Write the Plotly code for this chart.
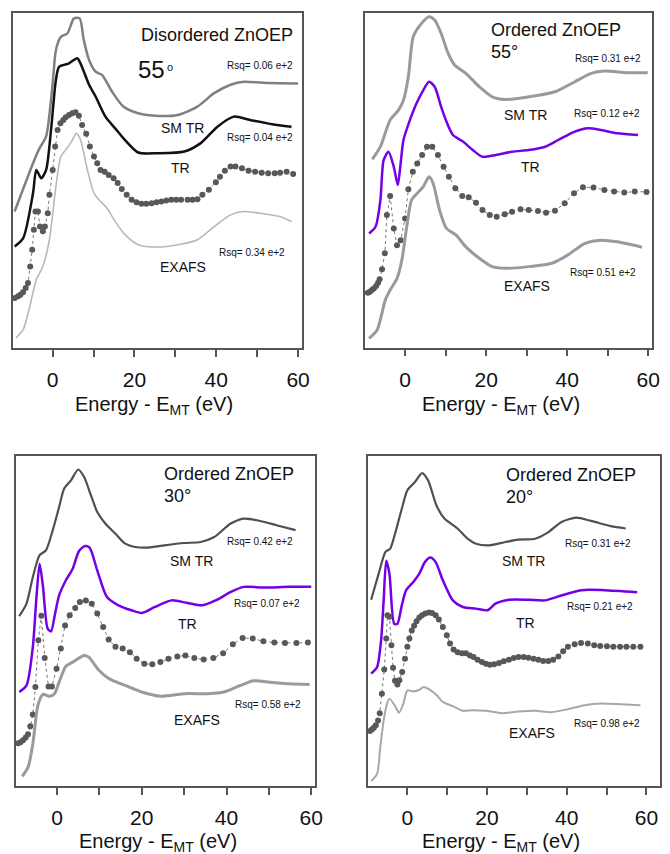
import plotly.graph_objects as go

# ---------------- data (energy in eV, normalised absorption + offset, arbitrary units) ----------------
TICK_VALS = [0, 20, 40, 60]
TICK_TEXT = ["0", "20", "40", "60"]

# Panel 1: Disordered ZnOEP 55°
P1_SMTR_E = [-9.3,-4.8,-3.2,-1.6,0,0.8,2.0,3.6,5.2,6.6,7.6,8.9,10.5,12.1,14.5,17.3,20.9,25.8,30.6,35.4,39.5,43.5,46.7,51.5,60]
P1_SMTR_Y = [40.7,55.1,59.6,63.1,79,88.9,92.8,93.8,98.3,98.3,91.9,85.9,82.4,81.4,76.5,72,70,69.2,69.5,72,76,78.5,79.4,79.1,78.9]
P1_TR_E = [-9.3,-7.2,-4.8,-4.0,-2.8,-1.6,-0.4,0.8,1.6,4.0,6.0,6.8,8.9,10.5,12.9,15.3,17.7,20.9,25.8,32.2,36.2,40.3,44.3,48.3,54.8,58.4]
P1_TR_Y = [30.3,32.8,46.2,53.1,50.6,53.1,65,80,83.9,84.9,86.4,84.9,78.5,75,69,65.5,62,58.3,58.1,58.6,61.1,66,69,68,66.5,66]
P1_EXP_E = [-9.26,-8.45,-7.89,-7.25,-6.6,-6.04,-5.5,-5.0,-4.6,-4.2,-3.6,-3.1,-2.4,-1.9,-1.2,-0.8,0,0.6,1.2,1.9,2.6,3.2,4.0,4.8,5.6,6.4,
            7.2,8.2,9.1,10.1,10.9,11.7,12.7,13.7,14.9,15.9,16.9,18.1,19.3,20.5,21.7,22.9,24.2,25.4,26.6,27.8,29.0,30.2,31.4,33.0,
            34.2,35.4,36.6,38.2,39.9,40.9,42.1,43.5,44.7,46.3,47.9,49.5,51.1,52.7,54.3,55.6,57.2,58.8]
P1_EXP_Y = [14.9,15.4,15.9,16.6,17.9,19.4,24.3,29.3,35.3,40.7,40.7,36.2,34.8,36.2,40.2,45.7,53.1,60.1,65,67,68,68.8,69.5,70,70.3,69.3,
            66.5,63.9,60.1,57.1,55.1,53.1,52.6,51.6,50.6,49.2,47.4,45.7,44.2,43.5,43,43,43.2,43.5,43.7,44,44.2,44.2,44.2,44.2,
            44.2,44.4,45.7,47.2,49.4,51.1,52.9,54.1,54.1,53.6,52.9,52.6,52.3,52.1,52.1,52.3,52.6,51.9]
P1_EXAFS_E = [-9.0,-7.2,-5.6,-4.0,-2.4,-0.8,0.8,2.0,3.2,4.4,5.8,6.8,8.5,10.1,11.7,13.3,15.3,17.7,20.9,25.8,30.6,35.4,39.5,43.5,46.7,50.7,55.6,58.4]
P1_EXAFS_Y = [3,5.5,12.4,20.4,24.3,32.3,48.2,57.1,59.1,61.1,64,62.1,53.1,46.2,43.7,41.7,37.7,33.8,30.8,30.1,30.8,32.3,36.2,39.7,40.7,40.2,39.2,37.7]

# Panel 2: Ordered ZnOEP 55°
P2_SMTR_E = [-8.1,-6.1,-3.7,-1.6,-0.4,0.8,2.0,3.7,5.9,7.3,8.9,10.6,12.2,15,18.3,21.5,24.8,30.5,37,41.9,45.9,49.2,54.9,59.9]
P2_SMTR_Y = [56.2,60,68,71,73.9,80.9,92.8,96.3,98.8,97.8,93.8,87.9,84.4,81.9,77.9,74.9,74.1,74.9,76.4,79.4,81.9,82.6,82.1,82.1]
P2_TR_E = [-8.9,-7.3,-6.1,-5.3,-4.1,-2.8,-1.8,-1.2,-0.4,1.2,2.8,4.5,5.9,7.3,8.9,10.2,11.8,14.2,16.7,19.1,22.4,26.4,30.5,34.6,37.8,41.9,45.1,48.4,52.4,57.5]
P2_TR_Y = [34.1,36.1,44.1,56,58.5,54,48.6,54,62,68,72.9,76.9,79.4,77.9,71.9,67.5,63.5,61.6,59,57,57.5,58.5,59,60,62,64.5,65.5,65,64,63.5]
P2_EXP_E = [-9.19,-8.70,-8.21,-7.72,-7.15,-6.67,-6.3,-5.7,-5.0,-4.5,-3.7,-2.8,-2.0,-1.1,0,0.8,1.9,3.0,4.2,5.4,6.7,8.1,9.5,10.8,12.4,14.1,
            15.7,17.5,19.1,20.9,22.6,24.6,26.4,28.5,30.5,32.8,34.8,37.0,39.4,41.7,43.9,46.5,49.2,51.6,54.1,56.7,59.6]
P2_EXP_Y = [16.4,16.7,17.2,17.7,18.4,19.4,20.4,23.4,28.2,39.6,45.3,35.6,30.6,32.1,38.6,47.3,52.5,55,57.5,60,60,57.5,54,51,47.6,45.3,
            44.9,43.3,41.1,39.6,39.1,39.8,40.6,41.3,41.1,40.8,40.3,40.9,43.1,46.1,47.9,47.8,47.1,46.6,46.3,46.6,46.5]
P2_EXAFS_E = [-8.9,-6.9,-4.9,-3.7,-2.0,-0.8,0.4,1.6,3.0,4.5,5.9,6.9,8.5,10.2,12.6,15,18.3,21.5,24.8,30.5,36.2,40.2,44.3,48.4,52.4,58.5]
P2_EXAFS_Y = [2.8,5.3,14.2,17.2,20.7,26.2,36.1,44.1,46.1,48.1,51,49.1,41.1,35.6,33.6,30.1,26.7,24.2,23.7,24.2,25.2,27.7,31.1,32.1,31.6,30]

# Panel 3: Ordered ZnOEP 30°
P3_SMTR_E = [-8.9,-7.2,-5.7,-4.1,-2.6,-1.0,0.5,1.7,3.3,5.0,6.4,8.0,9.5,11.4,13.8,16.1,18.4,21.5,25.4,30.1,33.9,37.1,41.0,44.1,47.2,51.8,56.3]
P3_SMTR_Y = [51.5,55.3,63.4,70,71.5,77.6,84.6,90.2,92.7,96,93.7,88.2,83.1,79.6,76.5,73.5,72.5,72.3,73,73.7,74,75.5,79.6,81.1,80.6,79.1,77.6]
P3_TR_E = [-8.9,-7.2,-5.7,-4.9,-4.1,-3.3,-2.2,-1.4,-0.6,0.5,2.1,3.7,5.2,6.6,7.7,9.5,11.8,14.5,17.6,20.1,23.1,27.0,30.8,34.3,37.8,40.9,44.1,48.7,54.9,60]
P3_TR_Y = [28.5,30.5,42.2,56.3,67.4,60.4,47.7,46.9,51.3,57.8,62.4,65.9,71.3,72.8,72.3,65.4,57.3,54.8,53.3,52.5,54.3,56.3,55.5,54.8,56.5,58.8,60.4,60.2,60.4,60.4]
P3_EXP_E = [-9.17,-8.63,-8.01,-7.38,-6.84,-6.3,-5.7,-5.1,-4.4,-3.7,-2.9,-2.0,-1.2,-0.1,0.9,1.9,3.0,4.3,5.4,6.8,8.2,9.5,10.9,12.2,13.8,
            15.5,17.2,18.8,20.6,22.5,24.4,26.3,28.4,30.3,32.4,34.6,36.9,39.2,41.5,43.8,46.2,48.7,51.3,53.8,56.5,59.2]
P3_EXP_Y = [13.0,13.3,13.9,14.7,15.7,18.1,21.7,30,44.2,51.6,38.8,30.2,30.2,35.6,41.7,48.7,51.8,54,55.8,56.3,55.3,52.3,48.2,44.4,42.2,
            41.7,40.6,38.6,37.1,36.9,37.6,38.6,39.3,39.6,38.8,38.4,38.8,40.3,43,44.9,44.7,43.9,43.5,43.4,43.4,43.5]
P3_EXAFS_E = [-8.2,-6.8,-5.7,-4.5,-3.3,-1.8,-0.6,0.5,2.1,4.0,6.4,7.5,9.9,12.2,16.1,20.0,24.6,30.1,35.5,39.4,43.3,46.4,50.3,54.9,59.6]
P3_EXAFS_Y = [2.9,5.8,12.8,24.5,27.8,27.2,28,31.5,36.3,37.8,39.6,39.1,35.1,32.6,30.5,28.5,27.2,28,28,28.5,30.5,31.9,31.5,31,30.8]

# Panel 4: Ordered ZnOEP 20°
P4_SMTR_E = [-9.1,-7.2,-5.5,-4.3,-3.1,-1.4,0,1.9,3.7,5.2,7.3,9.3,12.6,15.1,17.2,20.5,24.6,27.9,32.1,35.4,38.7,42.4,46.1,51.1,54.8]
P4_SMTR_Y = [56.5,64.4,71,72,76.5,84.1,89.7,92.2,94.9,92.7,85.1,81.1,78.1,75,73.5,73,74,74.7,75,77,80.1,81.4,80.4,78.8,78.1]
P4_TR_E = [-9.1,-7.6,-6.6,-5.95,-5.3,-4.5,-3.3,-2.5,-1.4,-0.3,1.5,3.0,4.4,5.8,7.1,8.9,11.4,13.9,17.2,20.1,22.1,25.5,30.4,34.5,38.7,43.6,49.4,57.7]
P4_TR_Y = [34.1,36.1,44.2,56.3,68.3,64.4,49.2,49.2,54.8,59.4,61.9,64.4,67.9,69.3,67.9,62.4,56.3,54.3,53.8,53.3,55.3,56.5,56.5,56.3,57.8,59.4,59.4,58.8]
P4_EXP_E = [-9.42,-8.93,-8.43,-7.93,-7.36,-6.94,-6.4,-5.8,-5.3,-5.0,-4.5,-4.0,-3.6,-3.1,-2.5,-2.0,-1.3,-0.6,0,0.5,1.1,1.7,2.3,3.0,3.7,4.5,
            5.4,6.2,7.1,7.9,8.9,9.9,10.7,11.6,12.6,13.7,14.7,15.7,16.6,17.6,18.7,19.7,20.7,21.8,23.0,24.2,25.5,26.7,27.9,29.2,
            30.4,31.7,32.9,34.1,35.4,36.6,37.9,39.1,40.3,42.0,43.6,45.3,46.9,48.4,50.1,51.7,53.4,55.0,56.7,58.5]
P4_EXP_Y = [16.7,17.1,17.7,18.4,19.9,22.1,28,35.3,44.7,51.8,51.3,42.7,35.9,31.9,30.8,32.1,34.6,38.6,42.2,44.7,47.2,48.6,50,51.1,51.8,52.3,
            52.6,52.5,51.8,50.5,48.2,45.7,43.2,41.4,40.6,40.3,40.3,39.6,39.1,38.3,37.6,37.1,36.8,36.9,37.3,37.8,38.3,38.8,39.1,39.1,
            38.9,38.6,38.3,37.9,37.9,38.3,39.3,40.9,42.2,43,43.4,43.2,42.7,42.5,42.4,42.2,42.2,42.2,42.2,42.2]
P4_EXAFS_E = [-9.1,-7.6,-6.8,-5.95,-5.1,-4.5,-3.2,-2.1,-1.0,0,1.5,3.0,4.1,5.6,7.4,8.9,11.4,13.9,16.4,19.7,23.8,27.9,32.1,36.2,40.3,44.5,48.6,53.6,58.5]
P4_EXAFS_Y = [1.5,3.7,11.8,19.9,25,26.5,24.5,22.2,25,29,28.7,29.2,30,29.2,27.5,25.5,24.2,22.8,23,22.8,22.1,22.6,22.8,22.4,23.3,24.5,25,24.8,24.5]

RSQ_LABELS = {
    1: ["Rsq= 0.06 e+2", "Rsq= 0.04 e+2", "Rsq= 0.34 e+2"],
    2: ["Rsq= 0.31 e+2", "Rsq= 0.12 e+2", "Rsq= 0.51 e+2"],
    3: ["Rsq= 0.42 e+2", "Rsq= 0.07 e+2", "Rsq= 0.58 e+2"],
    4: ["Rsq= 0.31 e+2", "Rsq= 0.21 e+2", "Rsq= 0.98 e+2"],
}

# ---------------- figure ----------------
W, H = 670, 854
FONT = "Liberation Sans, Arial, Helvetica, sans-serif"
PURPLE = "#7300e6"
DOT = "#585858"

fig = go.Figure()

def line(i, xs, ys, color, width):
    fig.add_trace(go.Scatter(x=xs, y=ys, mode="lines", xaxis=f"x{i}" if i > 1 else "x",
                             yaxis=f"y{i}" if i > 1 else "y",
                             line=dict(color=color, width=width, shape="spline", smoothing=0.7),
                             showlegend=False, hoverinfo="skip"))

def dots(i, xs, ys):
    fig.add_trace(go.Scatter(x=xs, y=ys, mode="lines+markers", xaxis=f"x{i}" if i > 1 else "x",
                             yaxis=f"y{i}" if i > 1 else "y",
                             line=dict(color="#777777", width=1, dash="dot"),
                             marker=dict(color=DOT, size=6),
                             showlegend=False, hoverinfo="skip"))

# panel 1
line(1, P1_SMTR_E, P1_SMTR_Y, "#808080", 2.5)
line(1, P1_TR_E, P1_TR_Y, "#111111", 2.5)
dots(1, P1_EXP_E, P1_EXP_Y)
line(1, P1_EXAFS_E, P1_EXAFS_Y, "#b8b8b8", 1.6)
# panel 2
line(2, P2_SMTR_E, P2_SMTR_Y, "#9a9a9a", 3)
line(2, P2_TR_E, P2_TR_Y, PURPLE, 2.5)
dots(2, P2_EXP_E, P2_EXP_Y)
line(2, P2_EXAFS_E, P2_EXAFS_Y, "#9a9a9a", 3)
# panel 3
line(3, P3_SMTR_E, P3_SMTR_Y, "#505050", 2.2)
line(3, P3_TR_E, P3_TR_Y, PURPLE, 2.5)
dots(3, P3_EXP_E, P3_EXP_Y)
line(3, P3_EXAFS_E, P3_EXAFS_Y, "#9a9a9a", 3)
# panel 4
line(4, P4_SMTR_E, P4_SMTR_Y, "#505050", 2.2)
line(4, P4_TR_E, P4_TR_Y, PURPLE, 2.5)
dots(4, P4_EXP_E, P4_EXP_Y)
line(4, P4_EXAFS_E, P4_EXAFS_Y, "#a8a8a8", 2)

# panel frames in pixels: (left, top, right, bottom), x range
PANELS = {
    1: ((12.7, 12.7, 306.0, 348.0), (-9.81, 61.05)),
    2: ((369.3, 12.7, 660.0, 347.7), (-9.93, 60.98)),
    3: ((15.7, 456.3, 319.3, 786.0), (-9.79, 61.0)),
    4: ((372.3, 456.3, 668.3, 786.0), (-9.92, 63.5)),
}

layout = dict(width=W, height=H, margin=dict(l=0, r=0, t=0, b=0),
              paper_bgcolor="white", plot_bgcolor="white", showlegend=False)
for i, ((l, t, r, b), xr) in PANELS.items():
    xa = "xaxis" if i == 1 else f"xaxis{i}"
    ya = "yaxis" if i == 1 else f"yaxis{i}"
    layout[xa] = dict(domain=[l / W, r / W], range=list(xr), anchor="y" if i == 1 else f"y{i}",
                      showline=True, linecolor="#555555", linewidth=1.5, mirror=True,
                      ticks="outside", ticklen=7, tickwidth=1.5, tickcolor="#555555",
                      tickvals=TICK_VALS, ticktext=TICK_TEXT, ticklabelstandoff=5,
                      ticklabeloverflow="allow",
                      minor=dict(ticks="outside", ticklen=7, tickwidth=1.5, tickcolor="#555555",
                                 tick0=0, dtick=10, showgrid=False),
                      tickfont=dict(family=FONT, size=21, color="#111111"),
                      showgrid=False, zeroline=False)
    layout[ya] = dict(domain=[1 - b / H, 1 - t / H], range=[0, 100], anchor="x" if i == 1 else f"x{i}",
                      showline=True, linecolor="#555555", linewidth=1.5, mirror=True,
                      showticklabels=False, ticks="", showgrid=False, zeroline=False)
fig.update_layout(**layout)

def ann(text, px, py, size, xanchor="left"):
    fig.add_annotation(text=text, x=px / W, y=1 - py / H, xref="paper", yref="paper",
                       xanchor=xanchor, yanchor="middle", showarrow=False, borderpad=0,
                       font=dict(family=FONT, size=size, color="#111111"))

# panel 1 texts
ann("Disordered ZnOEP", 142, 35, 18)
ann("55", 139, 70, 24)
ann("o", 167.5, 67, 11)
ann(RSQ_LABELS[1][0], 229, 66, 10)
ann("SM TR", 162, 128, 14)
ann(RSQ_LABELS[1][1], 229, 137, 10)
ann("TR", 172, 168, 14)
ann(RSQ_LABELS[1][2], 221, 252, 10)
ann("EXAFS", 161, 267, 14)
# panel 2 texts
ann("Ordered ZnOEP", 496, 30, 18)
ann("55°", 496, 52, 18)
ann(RSQ_LABELS[2][0], 581, 59, 10)
ann("SM TR", 509, 115, 14)
ann(RSQ_LABELS[2][1], 580, 113, 10)
ann("TR", 526, 167, 14)
ann(RSQ_LABELS[2][2], 576, 272, 10)
ann("EXAFS", 509, 286, 14)
# panel 3 texts
ann("Ordered ZnOEP", 165, 474, 18)
ann("30°", 165, 496, 18)
ann(RSQ_LABELS[3][0], 229, 541, 10)
ann("SM TR", 171, 561, 14)
ann(RSQ_LABELS[3][1], 236, 603, 10)
ann("TR", 179, 624, 14)
ann(RSQ_LABELS[3][2], 237, 704, 10)
ann("EXAFS", 175, 720, 14)
# panel 4 texts
ann("Ordered ZnOEP", 511, 475, 18)
ann("20°", 511, 497, 18)
ann(RSQ_LABELS[4][0], 571, 543, 10)
ann("SM TR", 507, 561, 14)
ann(RSQ_LABELS[4][1], 573, 606, 10)
ann("TR", 521, 623, 14)
ann(RSQ_LABELS[4][2], 580, 723, 10)
ann("EXAFS", 514, 733, 14)

# axis titles
TITLE = "Energy - E<sub>MT</sub> (eV)"
ann(TITLE, 156, 405, 20, "center")
ann(TITLE, 507, 405, 20, "center")
ann(TITLE, 160, 842, 20, "center")
ann(TITLE, 507, 842, 20, "center")

fig.write_html("out.html", config={"displayModeBar": False},
               post_script="document.body.style.margin='0';document.body.style.padding='0';"
                           "document.documentElement.style.overflow='hidden';")
